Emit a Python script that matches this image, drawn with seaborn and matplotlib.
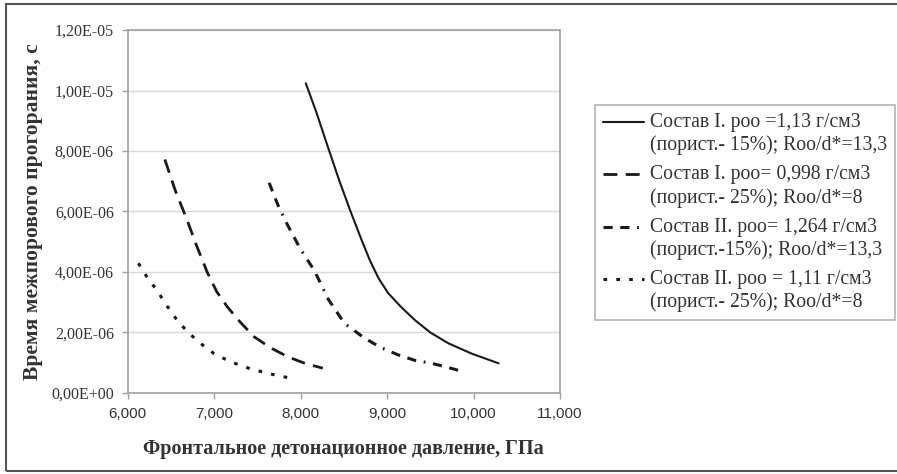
import matplotlib
matplotlib.use("Agg")
import numpy as np
import matplotlib.pyplot as plt
import matplotlib.ticker as mtick
import seaborn as sns
from matplotlib.patches import Rectangle
from matplotlib.legend_handler import HandlerLine2D

# Состав I, роо = 1,13 г/см3
x_s1 = [8060, 8180, 8315, 8450, 8586, 8700, 8799, 8900, 9013, 9160, 9322, 9500, 9711, 9980, 10290]
y_s1 = [1.024e-5, 9.3e-6, 8.14e-6, 7.0e-6, 5.94e-6, 5.1e-6, 4.4e-6, 3.8e-6, 3.3e-6, 2.85e-6, 2.41e-6, 2.0e-6, 1.64e-6, 1.3e-6, 0.98e-6]
# Состав I, роо = 0,998 г/см3
x_s2 = [6430, 6550, 6687, 6800, 6919, 7030, 7152, 7300, 7462, 7650, 7850, 8050, 8257]
y_s2 = [7.72e-6, 6.7e-6, 5.72e-6, 4.85e-6, 4.0e-6, 3.35e-6, 2.85e-6, 2.35e-6, 1.86e-6, 1.5e-6, 1.2e-6, 0.98e-6, 0.82e-6]
# Состав II, роо = 1,264 г/см3
x_s3 = [7636, 7740, 7850, 8000, 8159, 8320, 8508, 8741, 8930, 9128, 9320, 9516, 9700, 9884]
y_s3 = [6.95e-6, 6.2e-6, 5.55e-6, 4.75e-6, 4.05e-6, 3.1e-6, 2.3e-6, 1.81e-6, 1.5e-6, 1.26e-6, 1.08e-6, 0.98e-6, 0.85e-6, 0.7e-6]
# Состав II, роо = 1,11 г/см3
x_s4 = [6124, 6230, 6338, 6450, 6571, 6700, 6842, 7000, 7191, 7400, 7617, 7884]
y_s4 = [4.29e-6, 3.8e-6, 3.4e-6, 2.9e-6, 2.41e-6, 2.0e-6, 1.64e-6, 1.3e-6, 1.03e-6, 0.82e-6, 0.65e-6, 0.49e-6]

labels = [
    "Состав I. роо =1,13 г/см3\n(порист.- 15%); Roo/d*=13,3",
    "Состав I. роо= 0,998 г/см3\n(порист.- 25%); Roo/d*=8",
    "Состав II. роо= 1,264 г/см3\n(порист.-15%); Roo/d*=13,3",
    "Состав II. роо = 1,11 г/см3\n(порист.- 25%); Roo/d*=8",
]
x_ticks = [6000, 7000, 8000, 9000, 10000, 11000]
y_ticks = [0, 2e-6, 4e-6, 6e-6, 8e-6, 1e-5, 1.2e-5]


class FirstLineHandler(HandlerLine2D):
    # put the legend sample next to the first line of a two-line label
    def create_artists(self, legend, orig_handle, xdescent, ydescent,
                       width, height, fontsize, trans):
        artists = super().create_artists(legend, orig_handle, xdescent, ydescent,
                                         width, height, fontsize, trans)
        for a in artists:
            a.set_ydata(np.asarray(a.get_ydata()) + 0.62 * fontsize)
        return artists


sns.set_style("white")
plt.rcParams['font.family'] = ['Liberation Serif', 'DejaVu Serif']

fig = plt.figure(figsize=(8.97, 4.74), dpi=100)
ax = fig.add_axes([0.1423, 0.1709, 0.4820, 0.7658])

series = [
    (x_s1, y_s1, dict(linestyle='-', linewidth=1.5)),
    (x_s2, y_s2, dict(linestyle=(0, (5, 3)), linewidth=2.0)),
    (x_s3, y_s3, dict(linestyle=(0, (3, 2.5, 3, 2.5, 0.6, 2.5)), linewidth=2.2)),
    (x_s4, y_s4, dict(linestyle=(0, (1.2, 3)), linewidth=2.2)),
]
for (xs, ys, st), lab in zip(series, labels):
    sns.lineplot(x=xs, y=ys, ax=ax, color='#1a1a1a', label=lab, **st)

ax.set_xlim(6000, 11000)
ax.set_ylim(0, 1.2e-5)
ax.set_xticks(x_ticks)
ax.set_yticks(y_ticks)
ax.xaxis.set_major_formatter(mtick.FuncFormatter(lambda v, p: f"{int(v):,}"))
ax.yaxis.set_major_formatter(
    mtick.FuncFormatter(lambda v, p: f"{v:.2E}".replace('.', ',')))
for t in ax.get_xticklabels():
    t.set_family(['Liberation Sans', 'DejaVu Sans'])
    t.set_fontsize(11)
    t.set_color('#333333')
for t in ax.get_yticklabels():
    t.set_fontsize(11.5)
    t.set_color('#333333')

ax.grid(axis='y', color='#d9d9d9', linewidth=1)
ax.grid(axis='x', visible=False)
for s in ax.spines.values():
    s.set_color('#a0a0a0')
    s.set_linewidth(1.2)
ax.tick_params(axis='both', which='major', direction='out', length=4,
               width=1, color='#a0a0a0', pad=6, bottom=True, left=True)

ax.set_xlabel("Фронтальное детонационное давление, ГПа", fontsize=14.5,
              fontweight='bold', color='#333333', labelpad=13)
ax.set_ylabel("Время межпорового прогорания, с", fontsize=15.5,
              fontweight='bold', color='#333333', labelpad=6)

handles, _ = ax.get_legend_handles_labels()
leg = ax.legend(handles, labels, loc='upper left', bbox_to_anchor=(1.081, 0.793),
                frameon=True, fancybox=False, fontsize=14.2, handlelength=2.1,
                handletextpad=0.3, labelspacing=0.5, borderpad=0.4,
                borderaxespad=0, handler_map={h: FirstLineHandler() for h in handles})
leg.get_frame().set_edgecolor('#a0a0a0')
leg.get_frame().set_linewidth(1.2)
for t in leg.get_texts():
    t.set_color('#333333')
    t.set_linespacing(1.25)

fig.patches.append(Rectangle((6 / 897, 3 / 474), 1.2, 1 - 7 / 474,
                             transform=fig.transFigure, fill=False,
                             edgecolor='#555555', linewidth=1.5))

fig.savefig("out.png", dpi=100)
